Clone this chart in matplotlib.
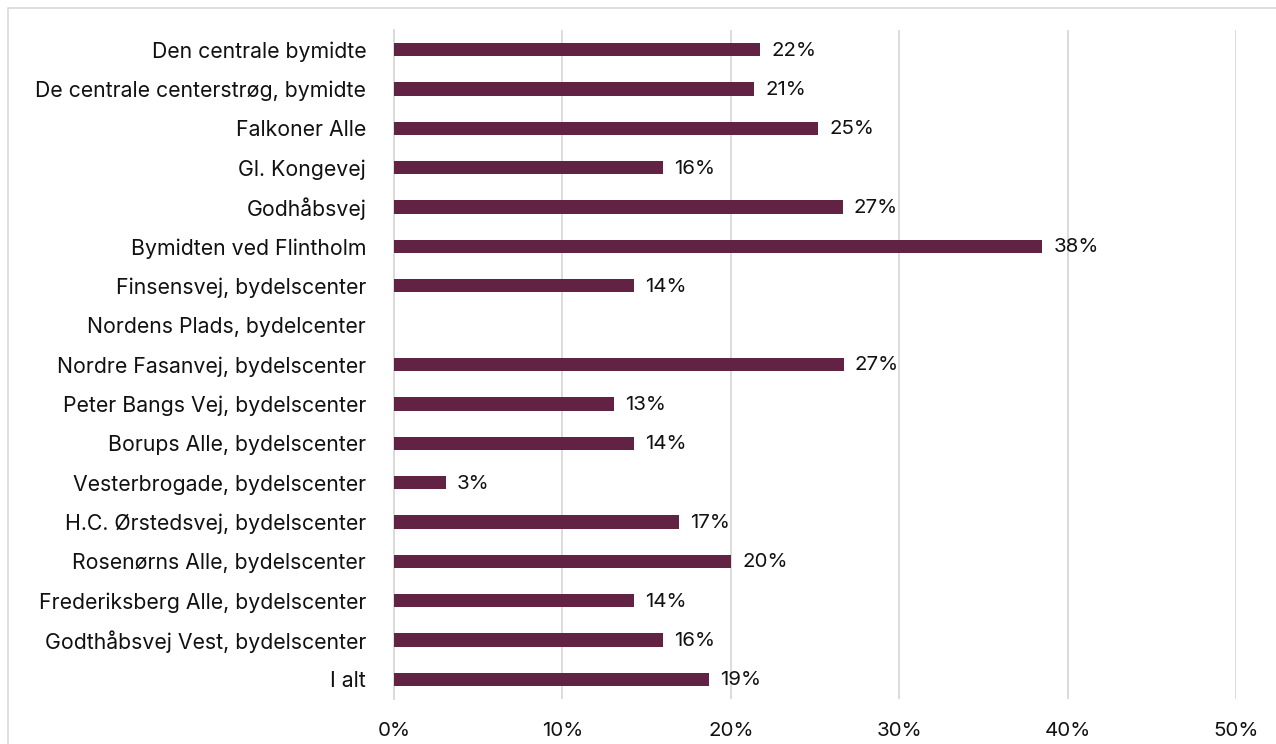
import matplotlib
matplotlib.use("Agg")
import matplotlib.pyplot as plt
from matplotlib.patches import Rectangle
import numpy as np

plt.rcParams['font.family'] = ['Inter', 'DejaVu Sans']

categories = [
    "Den centrale bymidte",
    "De centrale centerstrøg, bymidte",
    "Falkoner Alle",
    "Gl. Kongevej",
    "Godhåbsvej",
    "Bymidten ved Flintholm",
    "Finsensvej, bydelscenter",
    "Nordens Plads, bydelcenter",
    "Nordre Fasanvej, bydelscenter",
    "Peter Bangs Vej, bydelscenter",
    "Borups Alle, bydelscenter",
    "Vesterbrogade, bydelscenter",
    "H.C. Ørstedsvej, bydelscenter",
    "Rosenørns Alle, bydelscenter",
    "Frederiksberg Alle, bydelscenter",
    "Godthåbsvej Vest, bydelscenter",
    "I alt",
]
shares = [0.2175, 0.2139, 0.2520, 0.1595, 0.2666, 0.3850, 0.1426, np.nan,
          0.2670, 0.1307, 0.1428, 0.0309, 0.1690, 0.2002, 0.1426, 0.1600, 0.1870]
xticks = [0.0, 0.1, 0.2, 0.3, 0.4, 0.5]
xtick_labels = ["0%", "10%", "20%", "30%", "40%", "50%"]

bar_color = "#622243"
grid_color = "#d9d9d9"
text_color = "#111111"
fs_cat = 15.3
fs_val = 14.8

fig = plt.figure(figsize=(12.76, 7.44), dpi=100)
W, H = 1276, 744
ax = fig.add_axes([394 / W, 1 - 699 / H, (1236 - 394) / W, (699 - 30) / H])

# light frame around the chart area
fig.patches.append(Rectangle((8 / W, -0.1), 1.2, 1 - 8 / H + 0.1,
                             transform=fig.transFigure, fill=False,
                             edgecolor="#d9d9d9", linewidth=1.2))

y = np.arange(len(categories))
vals = np.array(shares, dtype=float)
ax.barh(y, np.nan_to_num(vals), height=0.34, color=bar_color, zorder=3)

for yi, v in zip(y, vals):
    if np.isnan(v):
        continue
    ax.annotate(f"{v:.0%}", xy=(v, yi), xytext=(11, -1), textcoords="offset pixels",
                ha="left", va="center", fontsize=fs_val, color=text_color, zorder=4)

ax.set_xlim(0, 0.5)
ax.set_ylim(len(categories) - 0.5, -0.5)
ax.set_xticks(xticks)
ax.set_xticklabels(xtick_labels, fontsize=fs_val, color=text_color)
ax.set_yticks(y)
ax.set_yticklabels(categories, fontsize=fs_cat, color=text_color)
ax.tick_params(axis="x", length=0, pad=16.5)
ax.tick_params(axis="y", length=0, pad=20)
ax.grid(axis="x", color=grid_color, linewidth=1.3, zorder=0)
ax.set_axisbelow(True)
for s in ["top", "right", "bottom"]:
    ax.spines[s].set_visible(False)
ax.spines["left"].set_color(grid_color)
ax.spines["left"].set_linewidth(1.3)

fig.savefig("out.png", dpi=100, facecolor="white")
